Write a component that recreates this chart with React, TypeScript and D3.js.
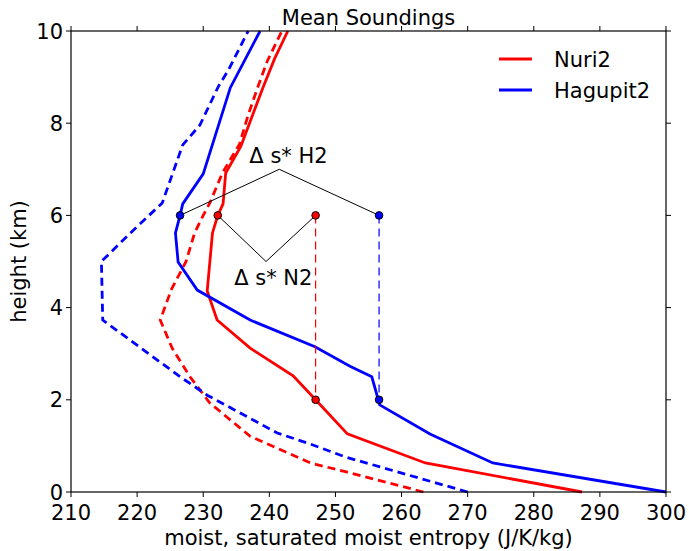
import React from 'react';
import * as d3 from 'd3';

// Mean sounding profiles: entropy (J/K/kg) by height (km)
const nuriMoistS = [263.3, 251.8, 246.2, 237.1, 231.0, 228.0, 225.3, 223.5, 225.2, 227.4, 228.7, 230.0, 231.0, 232.9, 235.5, 236.8, 238.2, 239.7, 241.9];
const nuriMoistZ = [0, 0.43, 0.63, 1.21, 1.93, 2.5, 3.12, 3.73, 4.4, 5.0, 5.62, 6.0, 6.27, 6.92, 7.55, 8.18, 8.76, 9.35, 10];
const nuriSatS = [287.3, 263.6, 251.8, 247.0, 243.6, 237.1, 232.1, 230.6, 231.4, 232.2, 233.0, 233.4, 235.7, 237.0, 239.0, 240.8, 242.8];
const nuriSatZ = [0, 0.63, 1.26, 2.0, 2.52, 3.12, 3.73, 4.36, 5.62, 6.0, 6.25, 6.92, 7.5, 8.0, 8.76, 9.4, 10];
const hagMoistS = [270.0, 251.5, 246.6, 241.2, 230.6, 226.5, 214.8, 214.6, 219.0, 223.8, 226.9, 229.5, 232.3, 233.8, 236.8];
const hagMoistZ = [0, 0.76, 1.02, 1.28, 2.1, 2.5, 3.73, 5.0, 5.62, 6.27, 7.53, 7.96, 8.8, 9.15, 10];
const hagSatS = [300.0, 273.8, 264.3, 256.7, 255.5, 252.2, 246.9, 237.1, 229.1, 226.2, 225.8, 226.5, 226.9, 230.0, 234.1, 238.6];
const hagSatZ = [0, 0.63, 1.26, 1.89, 2.5, 2.73, 3.15, 3.73, 4.38, 4.99, 5.62, 6.0, 6.25, 6.9, 8.77, 10];

// Delta s* markers (entropy, height)
const nuriMarkS = [232.2, 247.0, 247.0];
const nuriMarkZ = [6, 6, 2];
const hagMarkS = [226.5, 256.6, 256.6];
const hagMarkZ = [6, 6, 2];
const nuriBracketS = [232.2, 239.5, 247.0];
const nuriBracketZ = [6, 5.0, 6];
const hagBracketS = [226.5, 241.5, 256.6];
const hagBracketZ = [6, 7.0, 6];

const xTicks = [210, 220, 230, 240, 250, 260, 270, 280, 290, 300];
const yTicks = [0, 2, 4, 6, 8, 10];

const RED = '#ff0000';
const BLUE = '#0000ff';
const FONT = 'DejaVu Sans, sans-serif';
const FS = 21;

const W = 689, H = 551;
const margin = { left: 71, right: 23, top: 31, bottom: 59 };

const x = d3.scaleLinear().domain([210, 300]).range([margin.left, W - margin.right]);
const y = d3.scaleLinear().domain([0, 10]).range([H - margin.bottom, margin.top]);

const zip = (s: number[], z: number[]) => s.map((v, i) => [v, z[i]] as [number, number]);
const line = d3.line<[number, number]>().x(d => x(d[0])).y(d => y(d[1]));

export default function App() {
  const x0 = x.range()[0], x1 = x.range()[1];
  const y0 = y.range()[0], y1 = y.range()[1];
  const tk = 5;
  return (
    <svg width={W} height={H} style={{ position: 'absolute', left: 0, top: 0, background: '#fff' }} fontFamily={FONT}>
      <rect width={W} height={H} fill="#fff" />

      {/* profiles */}
      <path d={line(zip(nuriMoistS, nuriMoistZ)) || ''} fill="none" stroke={RED} strokeWidth={2.8} strokeDasharray="8,5" />
      <path d={line(zip(hagMoistS, hagMoistZ)) || ''} fill="none" stroke={BLUE} strokeWidth={2.8} strokeDasharray="8,5" />
      <path d={line(zip(nuriSatS, nuriSatZ)) || ''} fill="none" stroke={RED} strokeWidth={2.8} />
      <path d={line(zip(hagSatS, hagSatZ)) || ''} fill="none" stroke={BLUE} strokeWidth={2.8} />

      {/* vertical drop lines */}
      <line x1={x(nuriMarkS[1])} x2={x(nuriMarkS[2])} y1={y(nuriMarkZ[1])} y2={y(nuriMarkZ[2])} stroke={RED} strokeWidth={1.2} strokeDasharray="8,5" />
      <line x1={x(hagMarkS[1])} x2={x(hagMarkS[2])} y1={y(hagMarkZ[1])} y2={y(hagMarkZ[2])} stroke={BLUE} strokeWidth={1.2} strokeDasharray="8,5" />

      {/* brackets */}
      <path d={line(zip(nuriBracketS, nuriBracketZ)) || ''} fill="none" stroke="#000" strokeWidth={1} />
      <path d={line(zip(hagBracketS, hagBracketZ)) || ''} fill="none" stroke="#000" strokeWidth={1} />

      {/* markers */}
      {zip(nuriMarkS, nuriMarkZ).map((d, i) => (
        <circle key={'n' + i} cx={x(d[0])} cy={y(d[1])} r={3.8} fill={RED} stroke="#000" strokeWidth={1} />
      ))}
      {zip(hagMarkS, hagMarkZ).map((d, i) => (
        <circle key={'h' + i} cx={x(d[0])} cy={y(d[1])} r={3.8} fill={BLUE} stroke="#000" strokeWidth={1} />
      ))}

      <text x={x(242.9)} y={y(7.14)} fontSize={FS} textAnchor="middle">Δ s* H2</text>
      <text x={x(240.6)} y={y(4.49)} fontSize={FS} textAnchor="middle">Δ s* N2</text>

      {/* frame */}
      <rect x={x0} y={y1} width={x1 - x0} height={y0 - y1} fill="none" stroke="#000" strokeWidth={1.2} />

      {xTicks.map(t => (
        <g key={'x' + t}>
          <line x1={x(t)} x2={x(t)} y1={y0} y2={y0 + tk} stroke="#000" />
          <line x1={x(t)} x2={x(t)} y1={y1} y2={y1 - tk} stroke="#000" />
          <text x={x(t)} y={y0 + 28} fontSize={FS} textAnchor="middle">{t}</text>
        </g>
      ))}
      {yTicks.map(t => (
        <g key={'y' + t}>
          <line x1={x0} x2={x0 - tk} y1={y(t)} y2={y(t)} stroke="#000" />
          <line x1={x1} x2={x1 + tk} y1={y(t)} y2={y(t)} stroke="#000" />
          <text x={x0 - 8} y={y(t)} dy="0.36em" fontSize={FS} textAnchor="end">{t}</text>
        </g>
      ))}

      <text x={(x0 + x1) / 2} y={25} fontSize={FS} textAnchor="middle">Mean Soundings</text>
      <text x={(x0 + x1) / 2} y={545} fontSize={FS} textAnchor="middle">moist, saturated moist entropy (J/K/kg)</text>
      <text transform={`translate(26,${(y0 + y1) / 2}) rotate(-90)`} fontSize={FS} textAnchor="middle">height (km)</text>

      {/* legend */}
      <line x1={499} x2={532} y1={59} y2={59} stroke={RED} strokeWidth={2.8} />
      <text x={554} y={59} dy="0.36em" fontSize={FS}>Nuri2</text>
      <line x1={499} x2={532} y1={90} y2={90} stroke={BLUE} strokeWidth={2.8} />
      <text x={554} y={90} dy="0.36em" fontSize={FS}>Hagupit2</text>
    </svg>
  );
}
